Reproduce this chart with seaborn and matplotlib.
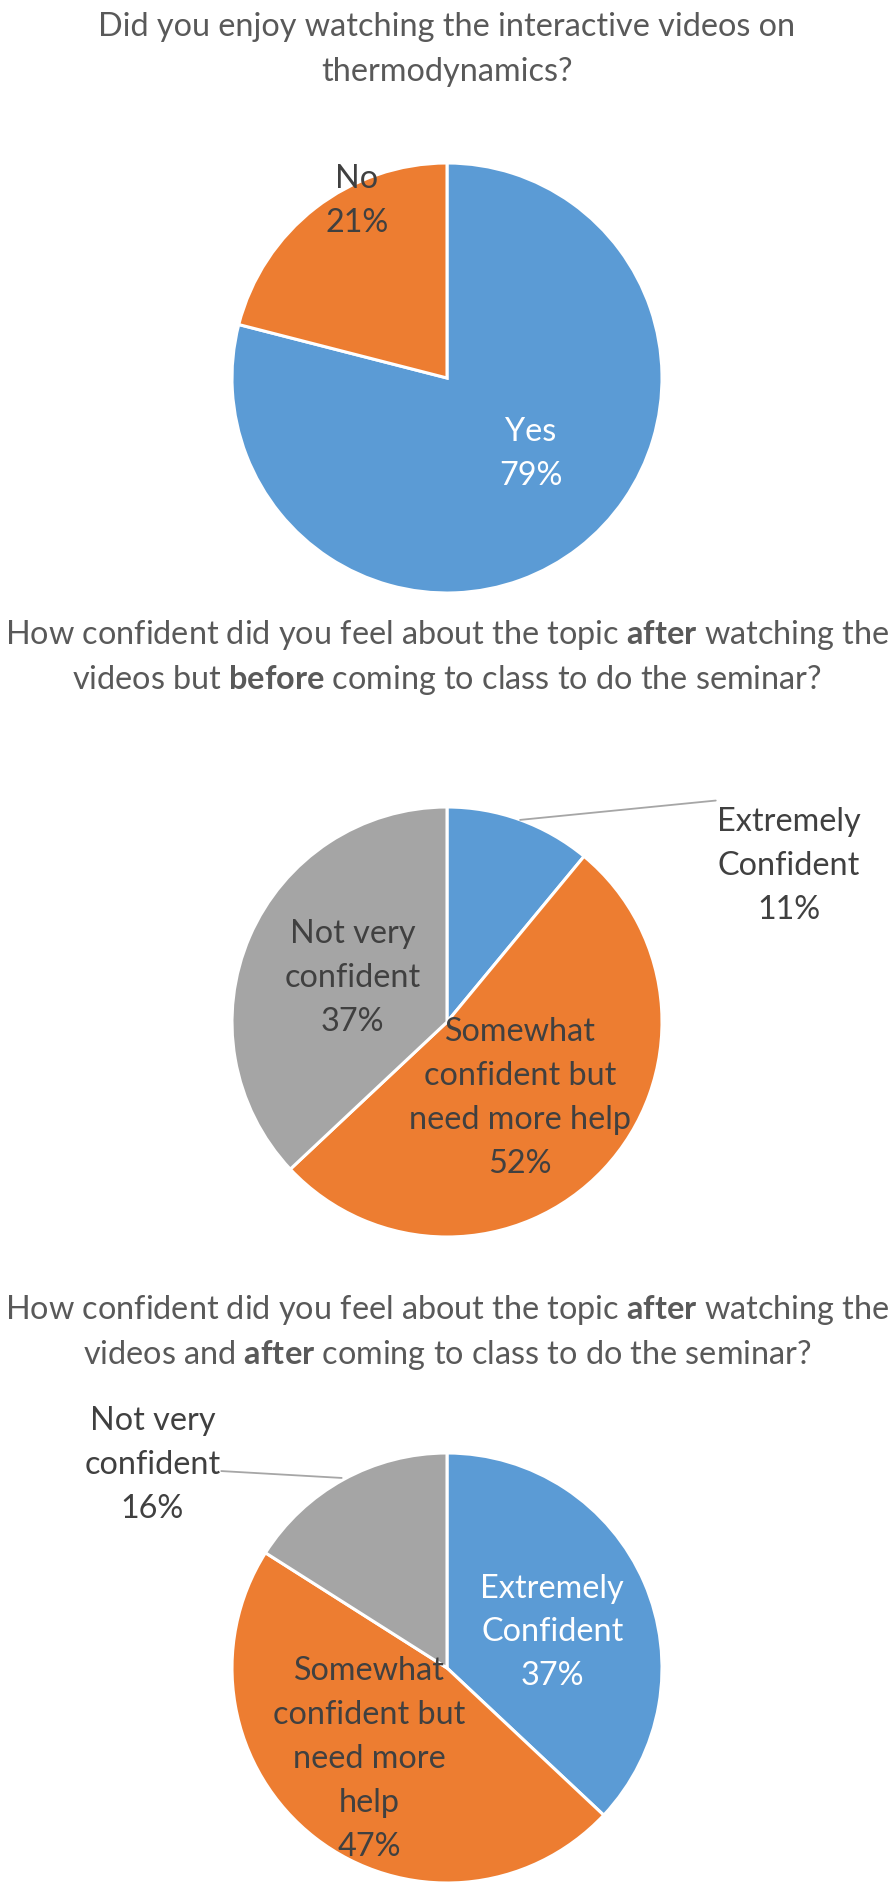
import numpy as np
import seaborn as sns
import matplotlib.pyplot as plt

# === DATA ===
q1_labels = ["Yes", "No"]
q1_values = [79, 21]

q2_labels = ["Extremely\nConfident", "Somewhat\nconfident but\nneed more help", "Not very\nconfident"]
q2_values = [11, 52, 37]

q3_labels = ["Extremely\nConfident", "Somewhat\nconfident but\nneed more\nhelp", "Not very\nconfident"]
q3_values = [37, 47, 16]

q1_title = ["Did you enjoy watching the interactive videos on", "thermodynamics?"]
q2_title = [r"How confident did you feel about the topic $\mathbf{after}$ watching the",
            r"videos but $\mathbf{before}$ coming to class to do the seminar?"]
q3_title = [r"How confident did you feel about the topic $\mathbf{after}$ watching the",
            r"videos and $\mathbf{after}$ coming to class to do the seminar?"]

# === STYLE ===
sns.set_theme(style="white")
plt.rcParams['font.family'] = ['Lato', 'DejaVu Sans']
plt.rcParams['mathtext.fontset'] = 'custom'
plt.rcParams['mathtext.rm'] = 'Lato'
plt.rcParams['mathtext.bf'] = 'Lato:bold'

colors = sns.color_palette(["#5B9BD5", "#ED7D31", "#A5A5A5"])
title_color = "#595959"
label_color = "#404040"
FS = 23.3

W, H = 894, 1890
fig = plt.figure(figsize=(W / 100, H / 100), dpi=100)
fig.patch.set_facecolor("white")


def draw_pie(cy, values, labels, label_pos, label_colors, leaders, title_lines, title_y):
    r = 215
    ax = fig.add_axes([(447 - r) / W, (H - cy - r) / H, 2 * r / W, 2 * r / H])
    ax.pie(values, colors=colors[:len(values)], startangle=90, counterclock=False,
           radius=1, wedgeprops=dict(edgecolor="white", linewidth=2.2))
    ax.set_xlim(-1, 1)
    ax.set_ylim(-1, 1)
    ax.axis("off")
    for lab, val, (x, y), c in zip(labels, values, label_pos, label_colors):
        ax.text(x, y, f"{lab}\n{val}%", ha="center", va="center", fontsize=FS,
                color=c, linespacing=1.58, clip_on=False)
    for (x0, y0, x1, y1) in leaders:
        ax.plot([x0, x1], [y0, y1], color="#A6A6A6", lw=1.3, clip_on=False)
    for i, line in enumerate(title_lines):
        fig.text(447 / W, 1 - (title_y + i * 45) / H, line, ha="center", va="center",
                 fontsize=FS, color=title_color)


draw_pie(379, q1_values, q1_labels,
         [(0.39, -0.35), (-0.42, 0.83)],
         ["white", label_color, label_color],
         [], q1_title, 27)

draw_pie(1023, q2_values, q2_labels,
         [(1.59, 0.73), (0.34, -0.35), (-0.44, 0.21)],
         [label_color, label_color, label_color],
         [(0.34, 0.94, 1.25, 1.03)],
         q2_title, 635)

draw_pie(1669, q3_values, q3_labels,
         [(0.49, 0.17), (-0.36, -0.42), (-1.37, 0.95)],
         ["white", label_color, label_color],
         [(-0.49, 0.884, -1.05, 0.916)],
         q3_title, 1310)

fig.savefig("out.png", dpi=100, facecolor="white")
